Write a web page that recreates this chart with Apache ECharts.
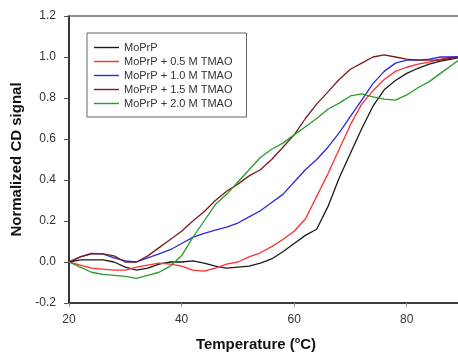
<!DOCTYPE html>
<html>
<head>
<meta charset="utf-8">
<script src="https://cdn.jsdelivr.net/npm/echarts@6/dist/echarts.min.js"></script>
<style>
html,body{margin:0;padding:0;background:#fff;}
#c{width:458px;height:357px;}
</style>
</head>
<body>
<div id="c"></div>
<script>
const temps = [20,22,24,26,28,30,32,34,36,38,40,42,44,46,48,50,52,54,56,58,60,62,64,66,68,70,72,74,76,78,80,82,84,86,88,90];
const seriesNames = ['MoPrP','MoPrP + 0.5 M TMAO','MoPrP + 1.0 M TMAO','MoPrP + 1.5 M TMAO','MoPrP + 2.0 M TMAO'];
const moprp   = [0,0.01,0.01,0.01,0.0,-0.025,-0.04,-0.03,-0.01,0.0,0.0,0.005,-0.005,-0.02,-0.03,-0.025,-0.02,-0.005,0.015,0.05,0.09,0.13,0.16,0.27,0.41,0.53,0.65,0.76,0.84,0.885,0.92,0.945,0.965,0.98,0.99,1.0];
const tmao05  = [0,-0.015,-0.03,-0.035,-0.04,-0.04,-0.025,-0.015,-0.005,-0.01,-0.02,-0.04,-0.045,-0.03,-0.01,0.0,0.025,0.045,0.075,0.11,0.15,0.21,0.32,0.43,0.55,0.67,0.77,0.835,0.89,0.93,0.95,0.965,0.975,0.99,1.0,1.0];
const tmao10  = [0,0.025,0.042,0.04,0.02,0.005,0.0,0.02,0.04,0.06,0.09,0.12,0.14,0.155,0.17,0.19,0.22,0.25,0.29,0.33,0.39,0.45,0.5,0.56,0.63,0.71,0.79,0.87,0.93,0.97,0.985,0.985,0.99,1.0,1.0,1.0];
const tmao15  = [0,0.025,0.04,0.04,0.03,0.0,0.0,0.03,0.07,0.11,0.15,0.2,0.245,0.3,0.345,0.38,0.42,0.45,0.5,0.56,0.62,0.7,0.77,0.83,0.89,0.94,0.97,1.0,1.01,1.0,0.99,0.985,0.985,0.985,0.995,1.0];
const tmao20  = [0,-0.025,-0.05,-0.06,-0.065,-0.07,-0.08,-0.065,-0.05,-0.02,0.03,0.12,0.2,0.28,0.33,0.39,0.45,0.51,0.55,0.58,0.62,0.66,0.7,0.745,0.775,0.81,0.82,0.805,0.795,0.79,0.815,0.85,0.88,0.92,0.96,1.0];
const yTicks = [-0.2,0,0.2,0.4,0.6,0.8,1.0,1.2];
const xTicks = [20,40,60,80];

const colors = ['#1a1a1a','#ff3030','#2a2ae0','#7a1c1c','#2a9a2a'];
const values = [moprp,tmao05,tmao10,tmao15,tmao20];
const font = "'Liberation Sans', Arial, sans-serif";

const chart = echarts.init(document.getElementById('c'));
chart.setOption({
  animation:false,
  backgroundColor:'#fff',
  grid:{left:69,top:16,width:394,height:287,outerBoundsMode:'none',containLabel:false,show:true,borderColor:'#222',borderWidth:1.2,backgroundColor:'transparent'},
  legend:{
    orient:'vertical',left:87,top:33,
    padding:[9,14,8,7],
    itemWidth:25,itemHeight:10,itemGap:3,
    borderColor:'#666',borderWidth:1,backgroundColor:'#fff',
    textStyle:{fontFamily:font,fontSize:11,color:'#333',padding:[0,0,0,0]},
    data:seriesNames.map((n,i)=>({name:n,icon:'path://M0,0H25V1.4H0Z'}))
  },
  xAxis:{
    type:'value',min:20,max:90,interval:20,
    name:'Temperature ({sup|o}C)',nameLocation:'middle',nameGap:33,
    nameTextStyle:{fontFamily:font,fontSize:15,fontWeight:'bold',color:'#111',padding:[0,20,0,0],
      rich:{sup:{fontFamily:font,fontSize:9,fontWeight:'bold',color:'#111',verticalAlign:'top',padding:[0,0,8,0]}}},
    axisLine:{show:true,onZero:false,lineStyle:{color:'#222',width:1.5}},
    axisTick:{show:true,length:4,lineStyle:{color:'#999'}},
    axisLabel:{fontFamily:font,fontSize:12,color:'#333',margin:11,
      formatter:v=>xTicks.indexOf(v)>=0?String(v):''},
    splitLine:{show:false}
  },
  yAxis:{
    type:'value',min:-0.2,max:1.2,interval:0.2,
    name:'Normalized CD signal',nameLocation:'middle',nameGap:43,
    nameTextStyle:{fontFamily:font,fontSize:15,fontWeight:'bold',color:'#111'},
    axisLine:{show:true,onZero:false,lineStyle:{color:'#222',width:1.5}},
    axisTick:{show:true,length:5,lineStyle:{color:'#555'}},
    axisLabel:{fontFamily:font,fontSize:12,color:'#333',margin:13,
      formatter:v=>{const t=yTicks.find(k=>Math.abs(k-v)<1e-6);return t===undefined?'':t.toFixed(1);}},
    splitLine:{show:false}
  },
  series:seriesNames.map((n,i)=>({
    name:n,type:'line',symbol:'none',
    data:temps.map((t,j)=>[t,values[i][j]]),
    lineStyle:{color:colors[i],width:1.3},
    itemStyle:{color:colors[i]}
  }))
});
</script>
</body>
</html>
